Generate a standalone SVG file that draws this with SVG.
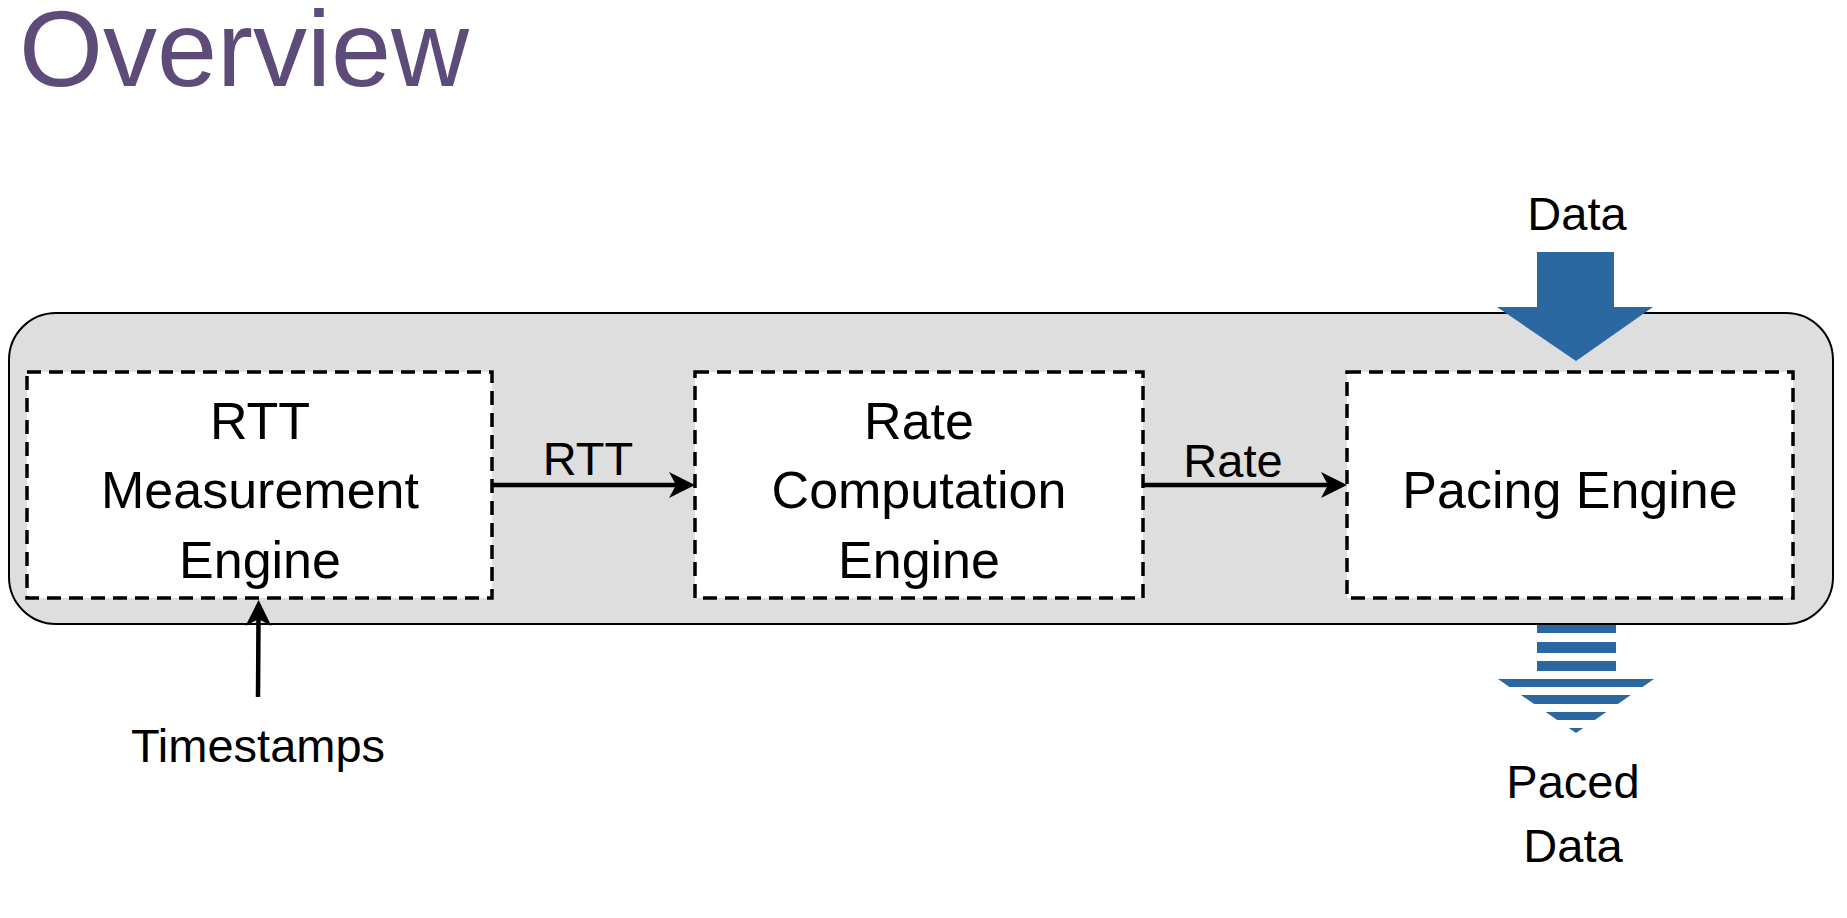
<svg xmlns="http://www.w3.org/2000/svg" width="1847" height="918" viewBox="0 0 1847 918">
<style>
.t{font-family:"Liberation Sans",Arial,sans-serif;fill:#000;text-anchor:middle}
.big{font-size:52px}
.sm{font-size:47px}
.title{font-family:"Liberation Sans",Arial,sans-serif;font-size:108px;fill:#5D4B79}
.box{fill:#fff;stroke:#000;stroke-width:3.5;stroke-dasharray:14 8}
.conn{stroke:#000;stroke-width:4.5;fill:none}
.blue{fill:#2B67A0}
</style>
<defs>
<marker id="ah" markerUnits="userSpaceOnUse" viewBox="-28 -15 30 30" markerWidth="30" markerHeight="30" refX="-18" refY="0" orient="auto" overflow="visible">
<path d="M0,0 L-26,-13 L-19,0 L-26,13 Z" fill="#000"/>
</marker>
<clipPath id="stripes">
<rect x="1490" y="625" width="170" height="8"/>
<rect x="1490" y="642" width="170" height="11"/>
<rect x="1490" y="661" width="170" height="10"/>
<rect x="1490" y="679" width="170" height="8"/>
<rect x="1490" y="695" width="170" height="9"/>
<rect x="1490" y="712" width="170" height="8"/>
<rect x="1490" y="728" width="170" height="6"/>
</clipPath>
</defs>
<rect width="1847" height="918" fill="#fff"/>
<text class="title" x="19" y="86">Overview</text>
<g id="container">
<rect x="9" y="313" width="1824" height="311" rx="47" ry="47" fill="#DEDEDE" stroke="#000" stroke-width="2"/>
</g>
<g id="rtt-engine">
<rect class="box" x="27" y="372" width="465" height="226"/>
<text class="t big" x="260" y="439">RTT</text>
<text class="t big" x="260" y="508">Measurement</text>
<text class="t big" x="260" y="578">Engine</text>
</g>
<g id="rate-engine">
<rect class="box" x="695" y="372" width="448" height="226"/>
<text class="t big" x="919" y="439">Rate</text>
<text class="t big" x="919" y="508">Computation</text>
<text class="t big" x="919" y="578">Engine</text>
</g>
<g id="pacing-engine">
<rect class="box" x="1347" y="372" width="446" height="226"/>
<text class="t big" x="1570" y="508">Pacing Engine</text>
</g>
<g id="data-in">
<polygon class="blue" points="1537,252 1614,252 1614,307 1653,307 1576,361 1497,307 1537,307"/>
<text class="t sm" x="1577" y="230">Data</text>
</g>
<g id="paced-out">
<polygon class="blue" clip-path="url(#stripes)" points="1537,616 1616,616 1616,679 1654,679 1576,733 1498,679 1537,679"/>
<text class="t sm" x="1573" y="798">Paced</text>
<text class="t sm" x="1573" y="862">Data</text>
</g>
<g id="timestamps">
<text class="t sm" x="258" y="762">Timestamps</text>
</g>
<g id="connectors">
<line class="conn" x1="492" y1="485" x2="677" y2="485" marker-end="url(#ah)"/>
<text class="t sm" x="588" y="475">RTT</text>
<line class="conn" x1="1143" y1="485" x2="1329" y2="485" marker-end="url(#ah)"/>
<text class="t sm" x="1233" y="477">Rate</text>
<line class="conn" x1="258" y1="697" x2="258.5" y2="618" marker-end="url(#ah)"/>
</g>
</svg>
